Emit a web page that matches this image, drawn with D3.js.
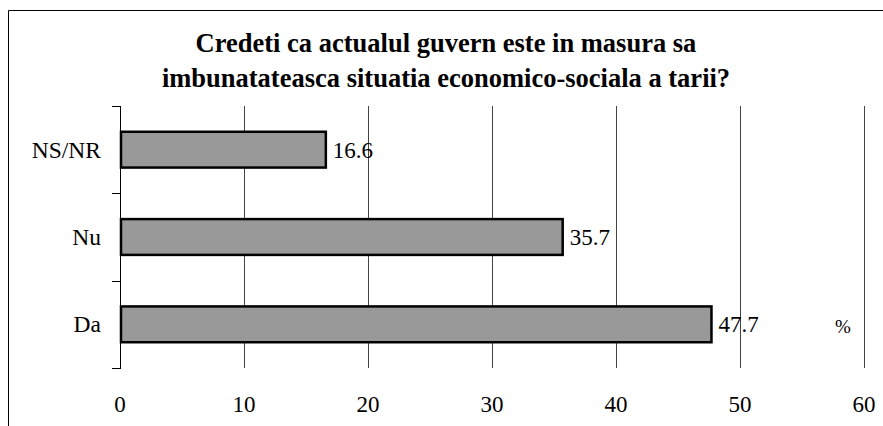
<!DOCTYPE html>
<html>
<head>
<meta charset="utf-8">
<script src="https://cdn.jsdelivr.net/npm/d3@7"></script>
<style>
  body { margin: 0; background: #fff; }
  svg text { font-family: "Liberation Serif", "Times New Roman", Times, Tinos, "DejaVu Serif", serif; }
</style>
</head>
<body>
<svg id="chart" width="883" height="426"></svg>
<script>
// data
const categories = ["NS/NR", "Nu", "Da"];
const values = [16.6, 35.7, 47.7];
const xTicks = [0, 10, 20, 30, 40, 50, 60];
const titleLines = [
    "Credeti ca actualul guvern este in masura sa",
    "imbunatateasca situatia economico-sociala a tarii?"
];

const svg = d3.select("#chart");

// outer frame (only top and left edges are visible)
svg.append("path")
    .attr("d", "M8.5,426 V10.5 H883")
    .attr("fill", "none")
    .attr("stroke", "#000")
    .attr("stroke-width", 1);

const x = d3.scaleLinear().domain([0, 60]).range([120, 864]);
const y = d3.scaleBand().domain(categories).range([106, 368]).padding(0);
const barH = y.bandwidth() * 0.41;

// title
svg.append("g")
    .selectAll("text")
    .data(titleLines)
    .enter()
    .append("text")
    .attr("x", 446)
    .attr("y", (d, i) => 52 + i * 35)
    .attr("text-anchor", "middle")
    .attr("font-weight", "bold")
    .attr("font-size", 26.5)
    .text(d => d);

// vertical gridlines
svg.append("g")
    .selectAll("line")
    .data(xTicks.filter(d => d > 0))
    .enter()
    .append("line")
    .attr("x1", d => Math.round(x(d)) + 0.5)
    .attr("x2", d => Math.round(x(d)) + 0.5)
    .attr("y1", 106)
    .attr("y2", 368)
    .attr("stroke", "#444")
    .attr("stroke-width", 1);

// x tick labels
svg.append("g")
    .selectAll("text")
    .data(xTicks)
    .enter()
    .append("text")
    .attr("x", d => x(d))
    .attr("y", 412)
    .attr("text-anchor", "middle")
    .attr("font-size", 23)
    .text(d => d);

// left axis, ticks on category boundaries
const yAxisG = svg.append("g");
yAxisG.append("line")
    .attr("x1", 120.5).attr("x2", 120.5)
    .attr("y1", 106).attr("y2", 368.5)
    .attr("stroke", "#000");
const bounds = categories.map(c => y(c)).concat([y.range()[1]]);
yAxisG.selectAll("line.tick")
    .data(bounds)
    .enter()
    .append("line")
    .attr("class", "tick")
    .attr("x1", 112).attr("x2", 121)
    .attr("y1", d => Math.round(d) + 0.5)
    .attr("y2", d => Math.round(d) + 0.5)
    .attr("stroke", "#000");

yAxisG.selectAll("text")
    .data(categories)
    .enter()
    .append("text")
    .attr("x", 101)
    .attr("y", d => y(d) + y.bandwidth() / 2 + 8)
    .attr("text-anchor", "end")
    .attr("font-size", 23.5)
    .text(d => d);

// bars
svg.append("g")
    .selectAll("rect")
    .data(values)
    .enter()
    .append("rect")
    .attr("x", x(0) + 1)
    .attr("y", (d, i) => y(categories[i]) + (y.bandwidth() - barH) / 2)
    .attr("width", d => x(d) - x(0) - 1)
    .attr("height", barH)
    .attr("fill", "#999999")
    .attr("stroke", "#000")
    .attr("stroke-width", 2.5);

// value labels
svg.append("g")
    .selectAll("text")
    .data(values)
    .enter()
    .append("text")
    .attr("x", d => x(d) + 7)
    .attr("y", (d, i) => y(categories[i]) + y.bandwidth() / 2 + 8)
    .attr("font-size", 23)
    .text(d => d.toFixed(1));

// unit marker
svg.append("text")
    .attr("x", 835)
    .attr("y", 333)
    .attr("font-size", 19)
    .text("%");
</script>
</body>
</html>
